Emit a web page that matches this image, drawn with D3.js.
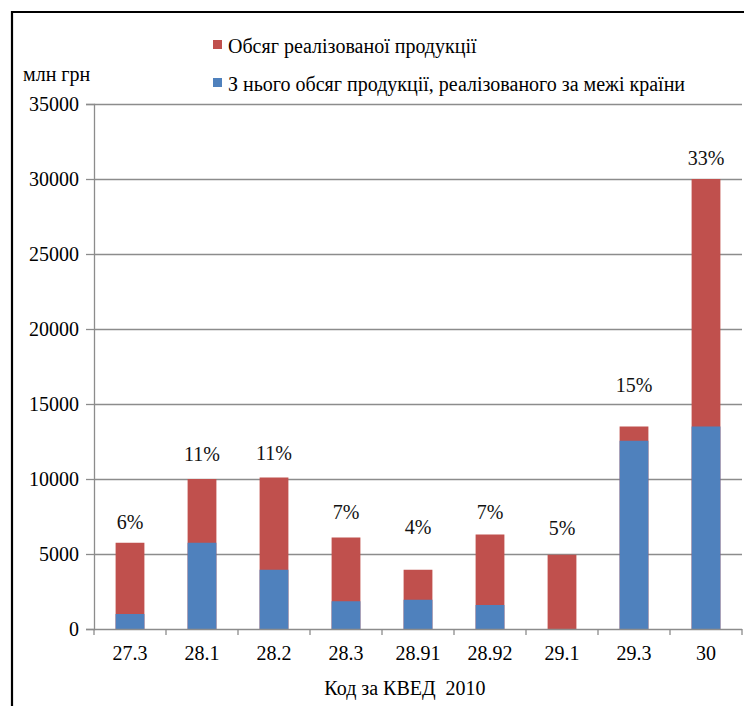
<!DOCTYPE html>
<html>
<head>
<meta charset="utf-8">
<script src="https://cdn.jsdelivr.net/npm/d3@7"></script>
<style>
  html, body { margin: 0; padding: 0; background: #fff; }
  svg { display: block; }
</style>
</head>
<body>
<svg id="chart" width="744" height="706"></svg>
<script>
// Коди КВЕД 2010
const categories = ["27.3", "28.1", "28.2", "28.3", "28.91", "28.92", "29.1", "29.3", "30"];
// Обсяг реалізованої продукції, млн грн
const totalSales = [5750, 10000, 10100, 6100, 3950, 6300, 4950, 13500, 30000];
// З нього реалізовано за межі країни, млн грн
const exportSales = [1000, 5750, 3950, 1850, 1950, 1600, 0, 12550, 13500];
// Частка виду діяльності
const shareLabels = ["6%", "11%", "11%", "7%", "4%", "7%", "5%", "15%", "33%"];
// Підписи шкали
const yTicks = [0, 5000, 10000, 15000, 20000, 25000, 30000, 35000];

const seriesNames = ["Обсяг реалізованої продукції", "З нього обсяг продукції, реалізованого за межі країни"];
const colors = { total: "#C0504D", export: "#4F81BD" };

const FONT = "'Liberation Serif', Tinos, 'Times New Roman', 'Noto Serif', 'DejaVu Serif', serif";

// Підйом підписів відсотків над стовпчиками, px
const labelLift = [14, 18, 18, 19, 36, 16, 20, 35, 14];

const svg = d3.select("#chart").style("font-family", FONT);
const margin = { left: 94, right: 742, top: 104, bottom: 629 };

const x = d3.scaleBand()
  .domain(categories)
  .range([margin.left, margin.right])
  .paddingInner(0.6)
  .paddingOuter(0.3);

const y = d3.scaleLinear()
  .domain([0, 35000])
  .range([margin.bottom, margin.top]);

// Рамка
svg.append("path")
  .attr("d", "M12,706 L12,12 L744,12")
  .attr("fill", "none")
  .attr("stroke", "#000")
  .attr("stroke-width", 2.2);

// Сітка
svg.append("g")
  .selectAll("line")
  .data(yTicks.filter(d => d > 0))
  .join("line")
  .attr("x1", margin.left)
  .attr("x2", margin.right)
  .attr("y1", d => Math.round(y(d)) + 0.5)
  .attr("y2", d => Math.round(y(d)) + 0.5)
  .attr("stroke", "#8c8c8c")
  .attr("stroke-width", 1.3);

// Вісь Y
const yAxis = svg.append("g")
  .attr("transform", `translate(${margin.left},0)`)
  .call(d3.axisLeft(y).tickValues(yTicks).tickFormat(d3.format("d")).tickSize(8).tickPadding(7))
  .attr("font-family", null)
  .attr("font-size", null);
yAxis.select(".domain").attr("stroke", "#8c8c8c").attr("stroke-width", 1.3);
yAxis.selectAll(".tick line").attr("stroke", "#8c8c8c").attr("stroke-width", 1.3);
yAxis.selectAll(".tick text")
  .style("font-family", FONT)
  .style("font-size", "20px")
  .attr("fill", "#000");

// Стовпчики: загальний обсяг
svg.append("g")
  .selectAll("rect")
  .data(categories)
  .join("rect")
  .attr("x", (d) => x(d))
  .attr("width", x.bandwidth())
  .attr("y", (d, i) => y(totalSales[i]))
  .attr("height", (d, i) => y(0) - y(totalSales[i]))
  .attr("fill", colors.total);

// Стовпчики: експорт (поверх загального обсягу)
svg.append("g")
  .selectAll("rect")
  .data(categories)
  .join("rect")
  .attr("x", (d) => x(d))
  .attr("width", x.bandwidth())
  .attr("y", (d, i) => y(exportSales[i]))
  .attr("height", (d, i) => y(0) - y(exportSales[i]))
  .attr("fill", colors.export);

// Вісь X з поділками між категоріями
const xAxisG = svg.append("g");
xAxisG.append("line")
  .attr("x1", margin.left).attr("x2", margin.right)
  .attr("y1", y(0) + 0.5).attr("y2", y(0) + 0.5)
  .attr("stroke", "#8c8c8c").attr("stroke-width", 1.3);
const step = x.step();
const boundaries = categories.map(c => x(c) - (step - x.bandwidth()) / 2).concat([margin.right]);
xAxisG.selectAll(".xt")
  .data(boundaries)
  .join("line")
  .attr("class", "xt")
  .attr("x1", d => d).attr("x2", d => d)
  .attr("y1", y(0)).attr("y2", y(0) + 6)
  .attr("stroke", "#8c8c8c").attr("stroke-width", 1.3);
xAxisG.selectAll("text")
  .data(categories)
  .join("text")
  .attr("x", d => x(d) + x.bandwidth() / 2)
  .attr("y", y(0) + 31)
  .attr("text-anchor", "middle")
  .style("font-size", "20px")
  .text(d => d);

// Підписи відсотків
svg.append("g")
  .selectAll("text")
  .data(categories)
  .join("text")
  .attr("x", d => x(d) + x.bandwidth() / 2)
  .attr("y", (d, i) => y(totalSales[i]) - labelLift[i])
  .attr("text-anchor", "middle")
  .style("font-size", "20px")
  .attr("fill", "#111")
  .text((d, i) => shareLabels[i]);

// Одиниці виміру
svg.append("text")
  .attr("x", 23).attr("y", 81)
  .style("font-size", "20px")
  .text("млн грн");

// Назва осі X
svg.append("text")
  .attr("x", 405).attr("y", 695)
  .attr("text-anchor", "middle")
  .style("font-size", "20px")
  .style("white-space", "pre")
  .text("Код за КВЕД  2010");

// Легенда
const legend = svg.append("g");
const legendItems = [
  { name: seriesNames[0], color: colors.total, y: 53 },
  { name: seriesNames[1], color: colors.export, y: 91 }
];
legend.selectAll("rect")
  .data(legendItems)
  .join("rect")
  .attr("x", 213).attr("y", d => d.y - 13)
  .attr("width", 9).attr("height", 9)
  .attr("fill", d => d.color);
legend.selectAll("text")
  .data(legendItems)
  .join("text")
  .attr("x", 228).attr("y", d => d.y)
  .style("font-size", "20px")
  .text(d => d.name);
</script>
</body>
</html>
